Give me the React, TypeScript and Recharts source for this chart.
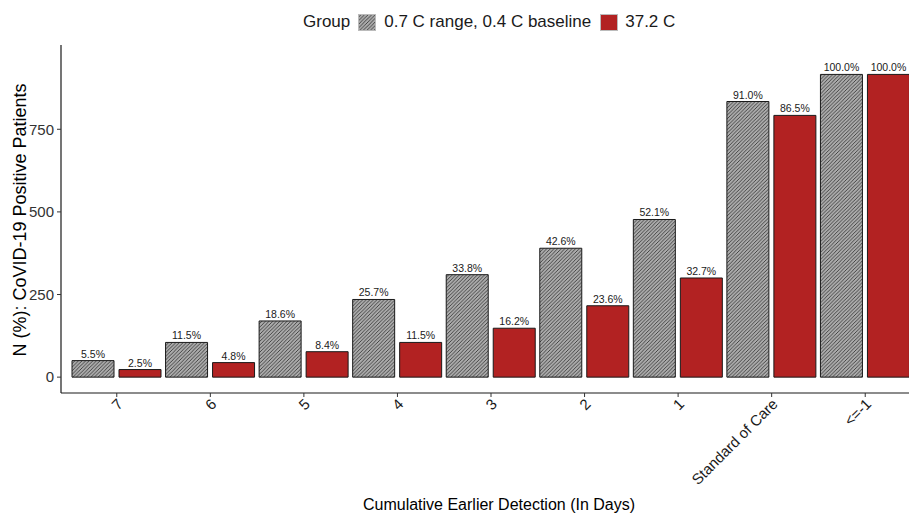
import React from 'react';
import { BarChart, Bar, XAxis, YAxis, LabelList } from 'recharts';

const categories = ['7', '6', '5', '4', '3', '2', '1', 'Standard of Care', '<=-1'];
const hatchedCounts = [50, 105, 170, 235, 310, 390, 477, 834, 916];
const hatchedLabels = ['5.5%', '11.5%', '18.6%', '25.7%', '33.8%', '42.6%', '52.1%', '91.0%', '100.0%'];
const redCounts = [23, 44, 77, 105, 148, 216, 300, 792, 916];
const redLabels = ['2.5%', '4.8%', '8.4%', '11.5%', '16.2%', '23.6%', '32.7%', '86.5%', '100.0%'];
const yTicks = [0, 250, 500, 750];

const seriesNames = ['0.7 C range, 0.4 C baseline', '37.2 C'];
const FONT = '"Liberation Sans", Arial, sans-serif';
const RED = '#B22222';

const data = categories.map((c, i) => ({
    category: c,
    hatched: hatchedCounts[i],
    hatchedLabel: hatchedLabels[i],
    red: redCounts[i],
    redLabel: redLabels[i],
}));

const HatchPattern = ({ id }: { id: string }) => (
    <pattern id={id} patternUnits="userSpaceOnUse" width={3.6} height={3.6}>
        <rect width={3.6} height={3.6} fill="#ababab" />
        <path d="M-0.9,0.9 l1.8,-1.8 M0,3.6 l3.6,-3.6 M2.7,4.5 l1.8,-1.8" stroke="#3a3a3a" strokeWidth={0.9} />
    </pattern>
);

// rotated tick labels, end anchored near the tick like ggplot angle=45 hjust=1
const XTick = (props: any) => {
    const { x, y, payload } = props;
    return (
        <g transform={`translate(${x + 7},${y + 8})`}>
            <text transform="rotate(-45)" textAnchor="end" fontSize={15} fill="#1a1a1a" fontFamily={FONT}>
                {payload.value}
            </text>
        </g>
    );
};

const Legend = () => (
    <div
        style={{
            position: 'absolute',
            left: 303,
            top: 12,
            display: 'flex',
            alignItems: 'center',
            fontFamily: FONT,
            fontSize: 17,
            color: '#1a1a1a',
            whiteSpace: 'nowrap',
        }}
    >
        <span style={{ marginRight: 8 }}>Group</span>
        <svg width={18} height={17} style={{ marginRight: 8 }}>
            <defs>
                <HatchPattern id="legendHatch" />
            </defs>
            <rect x={0.5} y={0.5} width={17} height={16} fill="url(#legendHatch)" stroke="#bbb" />
        </svg>
        <span style={{ marginRight: 9 }}>{seriesNames[0]}</span>
        <svg width={18} height={17} style={{ marginRight: 7 }}>
            <rect x={0.5} y={0.5} width={17} height={16} fill={RED} stroke="#bbb" />
        </svg>
        <span>{seriesNames[1]}</span>
    </div>
);

export default function App() {
    return (
        <div style={{ position: 'fixed', left: 0, top: 0, width: 909, height: 513, overflow: 'hidden', background: '#fff' }}>
            <Legend />
            <BarChart
                width={930}
                height={513}
                data={data}
                margin={{ top: 45, right: 9, bottom: 30, left: 21 }}
                barSize={42}
                barGap={5}
            >
                <defs>
                    <HatchPattern id="barHatch" />
                </defs>
                <XAxis
                    dataKey="category"
                    interval={0}
                    height={90}
                    padding={{ left: 9, right: 9 }}
                    tickSize={4}
                    tickMargin={0}
                    axisLine={{ stroke: '#1a1a1a', strokeWidth: 1.2 }}
                    tickLine={{ stroke: '#333' }}
                    tick={<XTick />}
                    label={{
                        content: () => (
                            <text x={499} y={510} textAnchor="middle" fontSize={16} fill="#000" fontFamily={FONT}>
                                Cumulative Earlier Detection (In Days)
                            </text>
                        ),
                    }}
                />
                <YAxis
                    width={40}
                    domain={[-48, 1005]}
                    ticks={yTicks}
                    tickSize={4}
                    tickMargin={3}
                    axisLine={{ stroke: '#1a1a1a', strokeWidth: 1.2 }}
                    tickLine={{ stroke: '#333' }}
                    tick={{ fontSize: 15, fill: '#333', fontFamily: FONT }}
                    label={{
                        content: () => (
                            <text
                                x={20}
                                y={220}
                                transform="rotate(-90, 20, 220)"
                                textAnchor="middle"
                                dominantBaseline="central"
                                fontSize={18}
                                fill="#000"
                                fontFamily={FONT}
                            >
                                N (%): CoVID-19 Positive Patients
                            </text>
                        ),
                    }}
                />
                <Bar dataKey="hatched" fill="url(#barHatch)" stroke="#1a1a1a" strokeWidth={1} isAnimationActive={false}>
                    <LabelList dataKey="hatchedLabel" position="top" offset={3} fontSize={10.5} fill="#1a1a1a" fontFamily={FONT} />
                </Bar>
                <Bar dataKey="red" fill={RED} stroke="#1a1a1a" strokeWidth={1} isAnimationActive={false}>
                    <LabelList dataKey="redLabel" position="top" offset={3} fontSize={10.5} fill="#1a1a1a" fontFamily={FONT} />
                </Bar>
            </BarChart>
        </div>
    );
}
